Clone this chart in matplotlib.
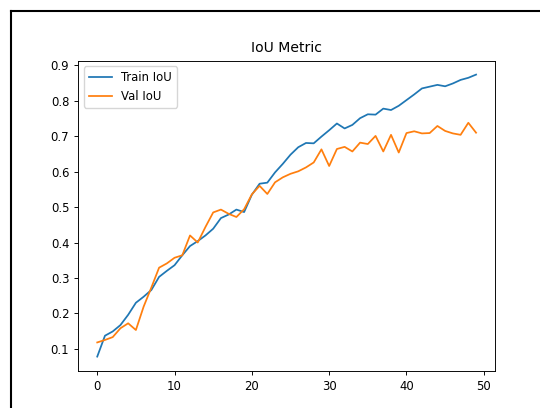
import matplotlib
matplotlib.use("Agg")
import matplotlib.pyplot as plt
from matplotlib.lines import Line2D

# IoU per epoch
epochs = list(range(50))
train_iou = [0.078, 0.137, 0.149, 0.167, 0.196, 0.230, 0.247, 0.266, 0.303, 0.320,
             0.336, 0.364, 0.390, 0.404, 0.420, 0.439, 0.469, 0.479, 0.493, 0.486,
             0.535, 0.566, 0.569, 0.598, 0.622, 0.648, 0.669, 0.681, 0.680, 0.699,
             0.717, 0.736, 0.722, 0.732, 0.751, 0.762, 0.761, 0.778, 0.774, 0.786,
             0.802, 0.818, 0.835, 0.840, 0.845, 0.841, 0.849, 0.859, 0.865, 0.874]
val_iou = [0.118, 0.125, 0.133, 0.158, 0.172, 0.153, 0.219, 0.273, 0.329, 0.341,
           0.357, 0.364, 0.420, 0.400, 0.444, 0.485, 0.493, 0.481, 0.472, 0.494,
           0.536, 0.560, 0.537, 0.570, 0.584, 0.594, 0.601, 0.612, 0.626, 0.663,
           0.616, 0.664, 0.670, 0.657, 0.682, 0.678, 0.701, 0.657, 0.704, 0.654,
           0.709, 0.714, 0.708, 0.709, 0.729, 0.715, 0.708, 0.704, 0.738, 0.710]

s = 0.84  # screenshot scale of the original figure
plt.rcParams["font.size"] = 10 * s
plt.rcParams["axes.linewidth"] = 0.8 * s
plt.rcParams["xtick.major.size"] = 3.5 * s
plt.rcParams["ytick.major.size"] = 3.5 * s
plt.rcParams["xtick.major.width"] = 0.8 * s
plt.rcParams["ytick.major.width"] = 0.8 * s

fig = plt.figure(figsize=(5.4, 4.08), dpi=100)
ax = fig.add_axes([78.3 / 540, (408 - 370.7) / 408, (495 - 78.3) / 540, (370.7 - 60.5) / 408])

ax.plot(epochs, train_iou, label="Train IoU", lw=1.5 * s)
ax.plot(epochs, val_iou, label="Val IoU", lw=1.5 * s)
ax.set_title("IoU Metric", fontsize=12 * s)
ax.legend(loc="upper left")

# black screenshot border
fig.add_artist(Line2D([11 / 540, 11 / 540], [0, 397 / 408], color="black", lw=1.5))
fig.add_artist(Line2D([11 / 540, 1], [397 / 408, 397 / 408], color="black", lw=1.5))

fig.savefig("out.png", dpi=100)
